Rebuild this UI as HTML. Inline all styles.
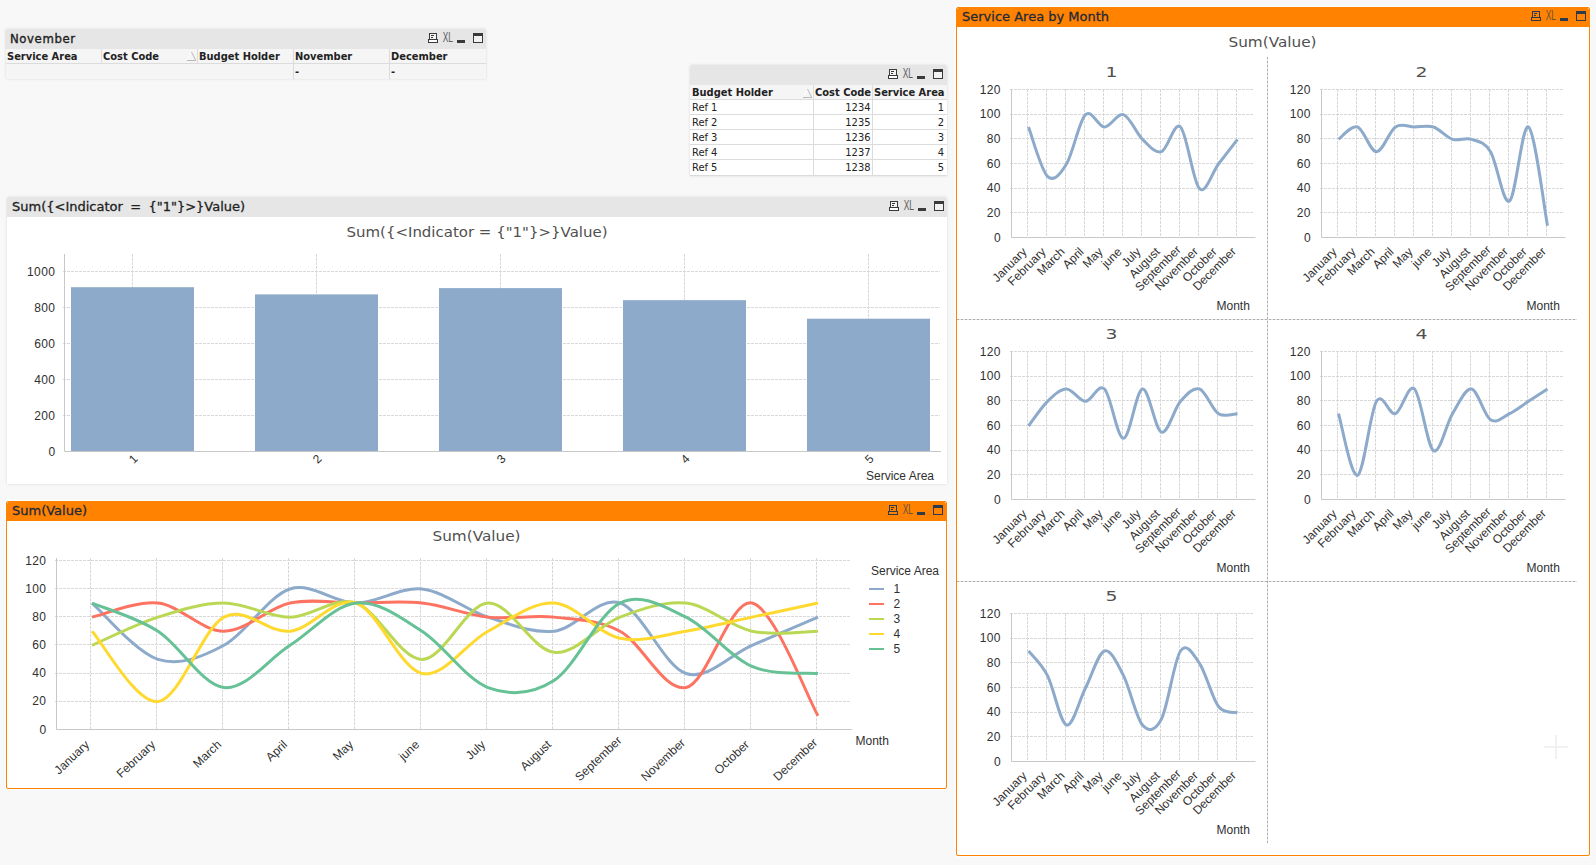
<!DOCTYPE html>
<html lang="en"><head><meta charset="utf-8"><title>QlikView</title>
<style>
html,body{margin:0;padding:0}
body{width:1596px;height:865px;overflow:hidden;background:#f8f8f8;position:relative;font-family:'DejaVu Sans Condensed','DejaVu Sans','Liberation Sans',sans-serif;font-size:11px;color:#222}
.obj{position:absolute;box-sizing:border-box;box-shadow:0 0 3px rgba(0,0,0,.13);border-radius:2px 2px 0 0}
.cap{position:absolute;left:0;top:0;right:0;background:#e6e6e6;white-space:pre;color:#222;border-radius:2px 2px 0 0}
.orange{border:1px solid #ff8200;border-radius:2px;box-shadow:0 0 0 1px rgba(255,255,255,.7)}
.orange .cap{background:#ff8200}
svg{position:absolute;left:0;top:0;overflow:visible}
svg text{white-space:pre}
.t{position:absolute;white-space:pre}
.b{font-weight:bold}
.ct{font-family:'DejaVu Sans','Liberation Sans',sans-serif;font-size:13px;line-height:15px;-webkit-text-stroke:.3px currentColor}
.orange .ct{color:#1f2a3a}
.ln{position:absolute;background:#dcdcdc}
</style></head><body>
<div class="obj" style="left:6px;top:29px;width:480px;height:50px;background:#f5f5f5"><div class="cap" style="left:-1px;height:20px"><span class="t" style="left:5px;top:1px;font-size:13px;line-height:17px;letter-spacing:.6px;-webkit-text-stroke:.35px #222">November</span></div><span class="t b" style="left:1px;top:21px;line-height:13px">Service Area</span><span class="t b" style="left:97px;top:21px;line-height:13px">Cost Code</span><span class="t b" style="left:193px;top:21px;line-height:13px">Budget Holder</span><span class="t b" style="left:289px;top:21px;line-height:13px">November</span><span class="t b" style="left:385px;top:21px;line-height:13px">December</span><div class="ln" style="left:0;top:34px;width:480px;height:1px"></div><div class="ln" style="left:95px;top:20px;width:1px;height:15px"></div><div class="ln" style="left:191px;top:20px;width:1px;height:15px"></div><div class="ln" style="left:287px;top:20px;width:1px;height:30px"></div><div class="ln" style="left:383px;top:20px;width:1px;height:30px"></div><span class="t b" style="left:289px;top:36px;line-height:13px">-</span><span class="t b" style="left:385px;top:36px;line-height:13px">-</span><svg width="480" height="50" viewBox="6 29 480 50"><rect x="429.5" y="33.5" width="7" height="6" fill="#f2f2f2" stroke="#3a3a3a"/><rect x="428.5" y="39.5" width="9" height="3" fill="#fff" stroke="#3a3a3a"/><path d="M431 35.5h3M431 37.5h2" stroke="#3a3a3a" fill="none"/><text x="442.7" y="42" font-family="'Liberation Sans',sans-serif" font-size="14" fill="#5c5c5c" textLength="10.3" lengthAdjust="spacingAndGlyphs">XL</text><rect x="457" y="40" width="8" height="3" fill="#3a3a3a"/><rect x="473.5" y="33.5" width="9" height="9" fill="#f2f2f2" stroke="#3a3a3a"/><rect x="473" y="33" width="10" height="3" fill="#3a3a3a"/><path d="M187.5 60L191 52" fill="none" stroke="#fff"/><path d="M187 60.5H196M191.5 52L195.5 60" fill="none" stroke="#b8b8b8"/></svg></div>
<div class="obj" style="left:690px;top:65px;width:257px;height:111px;background:#fff"><div class="cap" style="height:20px"></div><div class="t" style="left:0;top:20px;width:257px;height:15px;background:#f5f5f5"></div><span class="t b" style="left:2px;top:21px;line-height:13px">Budget Holder</span><span class="t b" style="left:125px;top:21px;line-height:13px">Cost Code</span><span class="t b" style="left:184px;top:21px;line-height:13px">Service Area</span><span class="t" style="left:2px;top:36px;line-height:13px">Ref 1</span><span class="t" style="left:124px;width:56.5px;text-align:right;top:36px;line-height:13px">1234</span><span class="t" style="left:183px;width:71px;text-align:right;top:36px;line-height:13px">1</span><span class="t" style="left:2px;top:51px;line-height:13px">Ref 2</span><span class="t" style="left:124px;width:56.5px;text-align:right;top:51px;line-height:13px">1235</span><span class="t" style="left:183px;width:71px;text-align:right;top:51px;line-height:13px">2</span><span class="t" style="left:2px;top:66px;line-height:13px">Ref 3</span><span class="t" style="left:124px;width:56.5px;text-align:right;top:66px;line-height:13px">1236</span><span class="t" style="left:183px;width:71px;text-align:right;top:66px;line-height:13px">3</span><span class="t" style="left:2px;top:81px;line-height:13px">Ref 4</span><span class="t" style="left:124px;width:56.5px;text-align:right;top:81px;line-height:13px">1237</span><span class="t" style="left:183px;width:71px;text-align:right;top:81px;line-height:13px">4</span><span class="t" style="left:2px;top:96px;line-height:13px">Ref 5</span><span class="t" style="left:124px;width:56.5px;text-align:right;top:96px;line-height:13px">1238</span><span class="t" style="left:183px;width:71px;text-align:right;top:96px;line-height:13px">5</span><div class="ln" style="left:0;top:34px;width:257px;height:1px"></div><div class="ln" style="left:0;top:49px;width:257px;height:1px"></div><div class="ln" style="left:0;top:64px;width:257px;height:1px"></div><div class="ln" style="left:0;top:79px;width:257px;height:1px"></div><div class="ln" style="left:0;top:94px;width:257px;height:1px"></div><div class="ln" style="left:0;top:110px;width:257px;height:1px"></div><div class="ln" style="left:123px;top:20px;width:1px;height:91px"></div><div class="ln" style="left:182px;top:20px;width:1px;height:91px"></div><svg width="257" height="111" viewBox="690 65 257 111"><rect x="889.5" y="69.5" width="7" height="6" fill="#f2f2f2" stroke="#3a3a3a"/><rect x="888.5" y="75.5" width="9" height="3" fill="#fff" stroke="#3a3a3a"/><path d="M891 71.5h3M891 73.5h2" stroke="#3a3a3a" fill="none"/><text x="902.7" y="78" font-family="'Liberation Sans',sans-serif" font-size="14" fill="#5c5c5c" textLength="10.3" lengthAdjust="spacingAndGlyphs">XL</text><rect x="917" y="76" width="8" height="3" fill="#3a3a3a"/><rect x="933.5" y="69.5" width="9" height="9" fill="#f2f2f2" stroke="#3a3a3a"/><rect x="933" y="69" width="10" height="3" fill="#3a3a3a"/><path d="M803.5 97L807 89" fill="none" stroke="#fff"/><path d="M803 97.5H812M807.5 89L811.5 97" fill="none" stroke="#b8b8b8"/></svg></div>
<div class="obj" style="left:7px;top:197px;width:940px;height:287px;background:#fff"><div class="cap" style="height:20px"><span class="t ct" style="left:5px;top:2px;word-spacing:3.2px">Sum({&lt;Indicator = {"1"}&gt;}Value)</span></div><svg width="940" height="287" viewBox="7 197 940 287"><path d="M63 415.5H940" stroke="#d8d8d8" stroke-dasharray="3 1" fill="none"/><path d="M63 379.5H940" stroke="#d8d8d8" stroke-dasharray="3 1" fill="none"/><path d="M63 343.5H940" stroke="#d8d8d8" stroke-dasharray="3 1" fill="none"/><path d="M63 307.5H940" stroke="#d8d8d8" stroke-dasharray="3 1" fill="none"/><path d="M63 271.5H940" stroke="#d8d8d8" stroke-dasharray="3 1" fill="none"/><path d="M132.5 254V451" stroke="#d8d8d8" stroke-dasharray="3 1" fill="none"/><path d="M316.5 254V451" stroke="#d8d8d8" stroke-dasharray="3 1" fill="none"/><path d="M500.5 254V451" stroke="#d8d8d8" stroke-dasharray="3 1" fill="none"/><path d="M684.5 254V451" stroke="#d8d8d8" stroke-dasharray="3 1" fill="none"/><path d="M868.5 254V451" stroke="#d8d8d8" stroke-dasharray="3 1" fill="none"/><rect x="71" y="287.2" width="123" height="163.8" fill="#8daacb"/><rect x="255" y="294.4" width="123" height="156.6" fill="#8daacb"/><rect x="439" y="288.1" width="123" height="162.9" fill="#8daacb"/><rect x="623" y="300.16" width="123" height="150.84" fill="#8daacb"/><rect x="807" y="318.7" width="123" height="132.3" fill="#8daacb"/><path d="M64.5 254V451.5H941" stroke="#c8c8c8" fill="none"/><text x="55.5" y="455.5" text-anchor="end" font-family="'Liberation Sans',sans-serif" font-size="12" letter-spacing=".45" fill="#303030">0</text><text x="55.5" y="419.5" text-anchor="end" font-family="'Liberation Sans',sans-serif" font-size="12" letter-spacing=".45" fill="#303030">200</text><text x="55.5" y="383.5" text-anchor="end" font-family="'Liberation Sans',sans-serif" font-size="12" letter-spacing=".45" fill="#303030">400</text><text x="55.5" y="347.5" text-anchor="end" font-family="'Liberation Sans',sans-serif" font-size="12" letter-spacing=".45" fill="#303030">600</text><text x="55.5" y="311.5" text-anchor="end" font-family="'Liberation Sans',sans-serif" font-size="12" letter-spacing=".45" fill="#303030">800</text><text x="55.5" y="275.5" text-anchor="end" font-family="'Liberation Sans',sans-serif" font-size="12" letter-spacing=".45" fill="#303030">1000</text><text x="138.5" y="459.5" text-anchor="end" font-family="'Liberation Sans',sans-serif" font-size="12" fill="#303030" transform="rotate(-45 138.5 459.5)">1</text><text x="322.5" y="459.5" text-anchor="end" font-family="'Liberation Sans',sans-serif" font-size="12" fill="#303030" transform="rotate(-45 322.5 459.5)">2</text><text x="506.5" y="459.5" text-anchor="end" font-family="'Liberation Sans',sans-serif" font-size="12" fill="#303030" transform="rotate(-45 506.5 459.5)">3</text><text x="690.5" y="459.5" text-anchor="end" font-family="'Liberation Sans',sans-serif" font-size="12" fill="#303030" transform="rotate(-45 690.5 459.5)">4</text><text x="874.5" y="459.5" text-anchor="end" font-family="'Liberation Sans',sans-serif" font-size="12" fill="#303030" transform="rotate(-45 874.5 459.5)">5</text><text x="934" y="480" text-anchor="end" font-family="'Liberation Sans',sans-serif" font-size="12" fill="#303030">Service Area</text><text x="477" y="237" text-anchor="middle" font-family="'DejaVu Sans','Liberation Sans',sans-serif" font-size="14" fill="#505050" textLength="261" lengthAdjust="spacingAndGlyphs">Sum({&lt;Indicator = {"1"}&gt;}Value)</text><rect x="890.5" y="201.5" width="7" height="6" fill="#f2f2f2" stroke="#3a3a3a"/><rect x="889.5" y="207.5" width="9" height="3" fill="#fff" stroke="#3a3a3a"/><path d="M892 203.5h3M892 205.5h2" stroke="#3a3a3a" fill="none"/><text x="903.7" y="210" font-family="'Liberation Sans',sans-serif" font-size="14" fill="#5c5c5c" textLength="10.3" lengthAdjust="spacingAndGlyphs">XL</text><rect x="918" y="208" width="8" height="3" fill="#3a3a3a"/><rect x="934.5" y="201.5" width="9" height="9" fill="#f2f2f2" stroke="#3a3a3a"/><rect x="934" y="201" width="10" height="3" fill="#3a3a3a"/></svg></div>
<div class="obj orange" style="left:6px;top:501px;width:941px;height:288px;background:#fff"><div class="cap" style="height:19px"><span class="t ct" style="left:5px;top:1px">Sum(Value)</span></div><svg style="left:-1px;top:-1px" width="941" height="288" viewBox="6 501 941 288"><path d="M55 701.5H851" stroke="#d8d8d8" stroke-dasharray="3 1" fill="none"/><path d="M55 673.5H851" stroke="#d8d8d8" stroke-dasharray="3 1" fill="none"/><path d="M55 644.5H851" stroke="#d8d8d8" stroke-dasharray="3 1" fill="none"/><path d="M55 616.5H851" stroke="#d8d8d8" stroke-dasharray="3 1" fill="none"/><path d="M55 588.5H851" stroke="#d8d8d8" stroke-dasharray="3 1" fill="none"/><path d="M55 560.5H851" stroke="#d8d8d8" stroke-dasharray="3 1" fill="none"/><path d="M90.5 558V729" stroke="#d8d8d8" stroke-dasharray="3 1" fill="none"/><path d="M156.5 558V729" stroke="#d8d8d8" stroke-dasharray="3 1" fill="none"/><path d="M222.5 558V729" stroke="#d8d8d8" stroke-dasharray="3 1" fill="none"/><path d="M288.5 558V729" stroke="#d8d8d8" stroke-dasharray="3 1" fill="none"/><path d="M354.5 558V729" stroke="#d8d8d8" stroke-dasharray="3 1" fill="none"/><path d="M420.5 558V729" stroke="#d8d8d8" stroke-dasharray="3 1" fill="none"/><path d="M486.5 558V729" stroke="#d8d8d8" stroke-dasharray="3 1" fill="none"/><path d="M552.5 558V729" stroke="#d8d8d8" stroke-dasharray="3 1" fill="none"/><path d="M618.5 558V729" stroke="#d8d8d8" stroke-dasharray="3 1" fill="none"/><path d="M684.5 558V729" stroke="#d8d8d8" stroke-dasharray="3 1" fill="none"/><path d="M750.5 558V729" stroke="#d8d8d8" stroke-dasharray="3 1" fill="none"/><path d="M816.5 558V729" stroke="#d8d8d8" stroke-dasharray="3 1" fill="none"/><path d="M56.5 558V729.5H852" stroke="#c8c8c8" fill="none"/><path d="M92 603.05C103 612.44 136 652.34 158 659.38C180 666.42 202 657.04 224 645.3C246 633.56 268 596.01 290 588.97C312 581.92 334 603.05 356 603.05C378 603.05 400 586.62 422 588.97C444 591.31 466 610.09 488 617.13C510 624.17 532 633.56 554 631.22C576 628.87 598 596.01 620 603.05C642 610.09 664 666.42 686 673.47C708 680.51 730 654.69 752 645.3C774 635.91 807 621.83 818 617.13" stroke="#8daacb" stroke-width="3" fill="none" stroke-linecap="butt" stroke-linejoin="round"/><path d="M92 617.13C103 614.79 136 600.7 158 603.05C180 605.4 202 631.22 224 631.22C246 631.22 268 607.74 290 603.05C312 598.36 334 603.05 356 603.05C378 603.05 400 600.7 422 603.05C444 605.4 466 614.79 488 617.13C510 619.48 532 614.79 554 617.13C576 619.48 598 619.48 620 631.22C642 642.95 664 692.24 686 687.55C708 682.86 730 598.36 752 603.05C774 607.74 807 696.94 818 715.72" stroke="#fc7362" stroke-width="3" fill="none" stroke-linecap="butt" stroke-linejoin="round"/><path d="M92 645.3C103 640.61 136 624.17 158 617.13C180 610.09 202 603.05 224 603.05C246 603.05 268 617.13 290 617.13C312 617.13 334 596.01 356 603.05C378 610.09 400 659.38 422 659.38C444 659.38 466 604.22 488 603.05C510 601.88 532 649.99 554 652.34C576 654.69 598 625.35 620 617.13C642 608.92 664 600.7 686 603.05C708 605.4 730 626.52 752 631.22C774 635.91 807 631.22 818 631.22" stroke="#bbd854" stroke-width="3" fill="none" stroke-linecap="butt" stroke-linejoin="round"/><path d="M92 631.22C103 642.95 136 703.98 158 701.63C180 699.29 202 628.87 224 617.13C246 605.4 268 633.56 290 631.22C312 628.87 334 596.01 356 603.05C378 610.09 400 668.77 422 673.47C444 678.16 466 642.95 488 631.22C510 619.48 532 601.88 554 603.05C576 604.22 598 633.56 620 638.26C642 642.95 664 634.74 686 631.22C708 627.7 730 621.83 752 617.13C774 612.44 807 605.4 818 603.05" stroke="#ffd92f" stroke-width="3" fill="none" stroke-linecap="butt" stroke-linejoin="round"/><path d="M92 603.05C103 607.74 136 617.13 158 631.22C180 645.3 202 685.2 224 687.55C246 689.9 268 659.38 290 645.3C312 631.22 334 605.4 356 603.05C378 600.7 400 617.13 422 631.22C444 645.3 466 679.33 488 687.55C510 695.77 532 694.59 554 680.51C576 666.42 598 613.61 620 603.05C642 592.49 664 606.57 686 617.13C708 627.7 730 657.04 752 666.42C774 675.81 807 672.29 818 673.47" stroke="#66c296" stroke-width="3" fill="none" stroke-linecap="butt" stroke-linejoin="round"/><text x="46.5" y="733.5" text-anchor="end" font-family="'Liberation Sans',sans-serif" font-size="12" letter-spacing=".45" fill="#303030">0</text><text x="46.5" y="705.33" text-anchor="end" font-family="'Liberation Sans',sans-serif" font-size="12" letter-spacing=".45" fill="#303030">20</text><text x="46.5" y="677.17" text-anchor="end" font-family="'Liberation Sans',sans-serif" font-size="12" letter-spacing=".45" fill="#303030">40</text><text x="46.5" y="649" text-anchor="end" font-family="'Liberation Sans',sans-serif" font-size="12" letter-spacing=".45" fill="#303030">60</text><text x="46.5" y="620.83" text-anchor="end" font-family="'Liberation Sans',sans-serif" font-size="12" letter-spacing=".45" fill="#303030">80</text><text x="46.5" y="592.67" text-anchor="end" font-family="'Liberation Sans',sans-serif" font-size="12" letter-spacing=".45" fill="#303030">100</text><text x="46.5" y="564.5" text-anchor="end" font-family="'Liberation Sans',sans-serif" font-size="12" letter-spacing=".45" fill="#303030">120</text><text x="90.0" y="745.5" text-anchor="end" font-family="'Liberation Sans',sans-serif" font-size="12" fill="#303030" transform="rotate(-43.5 90.0 745.5)">January</text><text x="156.0" y="745.5" text-anchor="end" font-family="'Liberation Sans',sans-serif" font-size="12" fill="#303030" transform="rotate(-43.5 156.0 745.5)">February</text><text x="222.0" y="745.5" text-anchor="end" font-family="'Liberation Sans',sans-serif" font-size="12" fill="#303030" transform="rotate(-43.5 222.0 745.5)">March</text><text x="288.0" y="745.5" text-anchor="end" font-family="'Liberation Sans',sans-serif" font-size="12" fill="#303030" transform="rotate(-43.5 288.0 745.5)">April</text><text x="354.0" y="745.5" text-anchor="end" font-family="'Liberation Sans',sans-serif" font-size="12" fill="#303030" transform="rotate(-43.5 354.0 745.5)">May</text><text x="420.0" y="745.5" text-anchor="end" font-family="'Liberation Sans',sans-serif" font-size="12" fill="#303030" transform="rotate(-43.5 420.0 745.5)">june</text><text x="486.0" y="745.5" text-anchor="end" font-family="'Liberation Sans',sans-serif" font-size="12" fill="#303030" transform="rotate(-43.5 486.0 745.5)">July</text><text x="552.0" y="745.5" text-anchor="end" font-family="'Liberation Sans',sans-serif" font-size="12" fill="#303030" transform="rotate(-43.5 552.0 745.5)">August</text><text x="622.35" y="741.37" text-anchor="end" font-family="'Liberation Sans',sans-serif" font-size="12" fill="#303030" transform="rotate(-43.5 622.35 741.37)">September</text><text x="685.96" y="743.64" text-anchor="end" font-family="'Liberation Sans',sans-serif" font-size="12" fill="#303030" transform="rotate(-43.5 685.96 743.64)">November</text><text x="750.0" y="745.5" text-anchor="end" font-family="'Liberation Sans',sans-serif" font-size="12" fill="#303030" transform="rotate(-43.5 750.0 745.5)">October</text><text x="818.17" y="743.44" text-anchor="end" font-family="'Liberation Sans',sans-serif" font-size="12" fill="#303030" transform="rotate(-43.5 818.17 743.44)">December</text><text x="855.5" y="745" font-family="'Liberation Sans',sans-serif" font-size="12" fill="#303030">Month</text><text x="871" y="575" font-family="'Liberation Sans',sans-serif" font-size="12" fill="#303030">Service Area</text><path d="M869 589H884" stroke="#8daacb" stroke-width="2" fill="none"/><text x="893.5" y="593" font-family="'Liberation Sans',sans-serif" font-size="12" fill="#303030">1</text><path d="M869 604H884" stroke="#fc7362" stroke-width="2" fill="none"/><text x="893.5" y="608" font-family="'Liberation Sans',sans-serif" font-size="12" fill="#303030">2</text><path d="M869 619H884" stroke="#bbd854" stroke-width="2" fill="none"/><text x="893.5" y="623" font-family="'Liberation Sans',sans-serif" font-size="12" fill="#303030">3</text><path d="M869 634H884" stroke="#ffd92f" stroke-width="2" fill="none"/><text x="893.5" y="638" font-family="'Liberation Sans',sans-serif" font-size="12" fill="#303030">4</text><path d="M869 649H884" stroke="#66c296" stroke-width="2" fill="none"/><text x="893.5" y="653" font-family="'Liberation Sans',sans-serif" font-size="12" fill="#303030">5</text><text x="476.5" y="541" text-anchor="middle" font-family="'DejaVu Sans','Liberation Sans',sans-serif" font-size="14" fill="#505050" textLength="88" lengthAdjust="spacingAndGlyphs">Sum(Value)</text><rect x="889.5" y="505.5" width="7" height="6" fill="none" stroke="#2c3a4c"/><rect x="888.5" y="511.5" width="9" height="3" fill="none" stroke="#2c3a4c"/><path d="M891 507.5h3M891 509.5h2" stroke="#2c3a4c" fill="none"/><text x="902.7" y="514" font-family="'Liberation Sans',sans-serif" font-size="14" fill="#6e5238" textLength="10.3" lengthAdjust="spacingAndGlyphs">XL</text><rect x="917" y="512" width="8" height="3" fill="#2c3a4c"/><rect x="933.5" y="505.5" width="9" height="9" fill="none" stroke="#2c3a4c"/><rect x="933" y="505" width="10" height="3" fill="#2c3a4c"/></svg></div>
<div class="obj orange" style="left:956px;top:7px;width:634px;height:849px;background:#fff"><div class="cap" style="height:19px"><span class="t ct" style="left:5px;top:1px">Service Area by Month</span></div><svg style="left:-1px;top:-1px" width="634" height="849" viewBox="956 7 634 849"><text x="1272.5" y="46.5" text-anchor="middle" font-family="'DejaVu Sans','Liberation Sans',sans-serif" font-size="14" fill="#505050" textLength="88" lengthAdjust="spacingAndGlyphs">Sum(Value)</text><path d="M1267.5 57V843M957 319.5H1577M957 581.5H1577" stroke="#e0e0e0" fill="none"/><path d="M1267.5 57V843M957 319.5H1577M957 581.5H1577" stroke="#adadad" stroke-dasharray="2 2" fill="none"/><path d="M1010.0 212.5H1254" stroke="#d8d8d8" stroke-dasharray="3 1" fill="none"/><path d="M1010.0 188.5H1254" stroke="#d8d8d8" stroke-dasharray="3 1" fill="none"/><path d="M1010.0 163.5H1254" stroke="#d8d8d8" stroke-dasharray="3 1" fill="none"/><path d="M1010.0 138.5H1254" stroke="#d8d8d8" stroke-dasharray="3 1" fill="none"/><path d="M1010.0 114.5H1254" stroke="#d8d8d8" stroke-dasharray="3 1" fill="none"/><path d="M1010.0 89.5H1254" stroke="#d8d8d8" stroke-dasharray="3 1" fill="none"/><path d="M1027.5 89V237" stroke="#d8d8d8" stroke-dasharray="3 1" fill="none"/><path d="M1046.5 89V237" stroke="#d8d8d8" stroke-dasharray="3 1" fill="none"/><path d="M1065.5 89V237" stroke="#d8d8d8" stroke-dasharray="3 1" fill="none"/><path d="M1084.5 89V237" stroke="#d8d8d8" stroke-dasharray="3 1" fill="none"/><path d="M1103.5 89V237" stroke="#d8d8d8" stroke-dasharray="3 1" fill="none"/><path d="M1122.5 89V237" stroke="#d8d8d8" stroke-dasharray="3 1" fill="none"/><path d="M1141.5 89V237" stroke="#d8d8d8" stroke-dasharray="3 1" fill="none"/><path d="M1160.5 89V237" stroke="#d8d8d8" stroke-dasharray="3 1" fill="none"/><path d="M1179.5 89V237" stroke="#d8d8d8" stroke-dasharray="3 1" fill="none"/><path d="M1198.5 89V237" stroke="#d8d8d8" stroke-dasharray="3 1" fill="none"/><path d="M1217.5 89V237" stroke="#d8d8d8" stroke-dasharray="3 1" fill="none"/><path d="M1236.5 89V237" stroke="#d8d8d8" stroke-dasharray="3 1" fill="none"/><path d="M1011.5 89V237.5H1255.5" stroke="#c8c8c8" fill="none"/><path d="M1028.5 127C1031.67 135.22 1041.17 170.17 1047.5 176.33C1053.83 182.5 1060.17 174.28 1066.5 164C1072.83 153.72 1079.17 120.83 1085.5 114.67C1091.83 108.5 1098.17 127 1104.5 127C1110.83 127 1117.17 112.61 1123.5 114.67C1129.83 116.72 1136.17 133.17 1142.5 139.33C1148.83 145.5 1155.17 153.72 1161.5 151.67C1167.83 149.61 1174.17 120.83 1180.5 127C1186.83 133.17 1193.17 182.5 1199.5 188.67C1205.83 194.83 1212.17 172.22 1218.5 164C1224.83 155.78 1234.33 143.44 1237.5 139.33" stroke="#8daacb" stroke-width="3" fill="none" stroke-linejoin="round"/><text x="1001" y="241.5" text-anchor="end" font-family="'Liberation Sans',sans-serif" font-size="12" letter-spacing=".45" fill="#303030">0</text><text x="1001" y="216.83" text-anchor="end" font-family="'Liberation Sans',sans-serif" font-size="12" letter-spacing=".45" fill="#303030">20</text><text x="1001" y="192.17" text-anchor="end" font-family="'Liberation Sans',sans-serif" font-size="12" letter-spacing=".45" fill="#303030">40</text><text x="1001" y="167.5" text-anchor="end" font-family="'Liberation Sans',sans-serif" font-size="12" letter-spacing=".45" fill="#303030">60</text><text x="1001" y="142.83" text-anchor="end" font-family="'Liberation Sans',sans-serif" font-size="12" letter-spacing=".45" fill="#303030">80</text><text x="1001" y="118.17" text-anchor="end" font-family="'Liberation Sans',sans-serif" font-size="12" letter-spacing=".45" fill="#303030">100</text><text x="1001" y="93.5" text-anchor="end" font-family="'Liberation Sans',sans-serif" font-size="12" letter-spacing=".45" fill="#303030">120</text><text x="1027.5" y="252.5" text-anchor="end" font-family="'Liberation Sans',sans-serif" font-size="12" fill="#303030" transform="rotate(-45 1027.5 252.5)">January</text><text x="1046.5" y="252.5" text-anchor="end" font-family="'Liberation Sans',sans-serif" font-size="12" fill="#303030" transform="rotate(-45 1046.5 252.5)">February</text><text x="1065.5" y="252.5" text-anchor="end" font-family="'Liberation Sans',sans-serif" font-size="12" fill="#303030" transform="rotate(-45 1065.5 252.5)">March</text><text x="1084.5" y="252.5" text-anchor="end" font-family="'Liberation Sans',sans-serif" font-size="12" fill="#303030" transform="rotate(-45 1084.5 252.5)">April</text><text x="1103.5" y="252.5" text-anchor="end" font-family="'Liberation Sans',sans-serif" font-size="12" fill="#303030" transform="rotate(-45 1103.5 252.5)">May</text><text x="1122.5" y="252.5" text-anchor="end" font-family="'Liberation Sans',sans-serif" font-size="12" fill="#303030" transform="rotate(-45 1122.5 252.5)">june</text><text x="1141.5" y="252.5" text-anchor="end" font-family="'Liberation Sans',sans-serif" font-size="12" fill="#303030" transform="rotate(-45 1141.5 252.5)">July</text><text x="1160.5" y="252.5" text-anchor="end" font-family="'Liberation Sans',sans-serif" font-size="12" fill="#303030" transform="rotate(-45 1160.5 252.5)">August</text><text x="1181.62" y="250.38" text-anchor="end" font-family="'Liberation Sans',sans-serif" font-size="12" fill="#303030" transform="rotate(-45 1181.62 250.38)">September</text><text x="1198.85" y="252.15" text-anchor="end" font-family="'Liberation Sans',sans-serif" font-size="12" fill="#303030" transform="rotate(-45 1198.85 252.15)">November</text><text x="1217.5" y="252.5" text-anchor="end" font-family="'Liberation Sans',sans-serif" font-size="12" fill="#303030" transform="rotate(-45 1217.5 252.5)">October</text><text x="1236.85" y="252.15" text-anchor="end" font-family="'Liberation Sans',sans-serif" font-size="12" fill="#303030" transform="rotate(-45 1236.85 252.15)">December</text><text x="1216.5" y="309.5" font-family="'Liberation Sans',sans-serif" font-size="12" fill="#303030">Month</text><text x="1111.5" y="76.5" text-anchor="middle" font-family="'DejaVu Sans','Liberation Sans',sans-serif" font-size="14" fill="#505050" textLength="12" lengthAdjust="spacingAndGlyphs">1</text><path d="M1320.0 212.5H1564" stroke="#d8d8d8" stroke-dasharray="3 1" fill="none"/><path d="M1320.0 188.5H1564" stroke="#d8d8d8" stroke-dasharray="3 1" fill="none"/><path d="M1320.0 163.5H1564" stroke="#d8d8d8" stroke-dasharray="3 1" fill="none"/><path d="M1320.0 138.5H1564" stroke="#d8d8d8" stroke-dasharray="3 1" fill="none"/><path d="M1320.0 114.5H1564" stroke="#d8d8d8" stroke-dasharray="3 1" fill="none"/><path d="M1320.0 89.5H1564" stroke="#d8d8d8" stroke-dasharray="3 1" fill="none"/><path d="M1337.5 89V237" stroke="#d8d8d8" stroke-dasharray="3 1" fill="none"/><path d="M1356.5 89V237" stroke="#d8d8d8" stroke-dasharray="3 1" fill="none"/><path d="M1375.5 89V237" stroke="#d8d8d8" stroke-dasharray="3 1" fill="none"/><path d="M1394.5 89V237" stroke="#d8d8d8" stroke-dasharray="3 1" fill="none"/><path d="M1413.5 89V237" stroke="#d8d8d8" stroke-dasharray="3 1" fill="none"/><path d="M1432.5 89V237" stroke="#d8d8d8" stroke-dasharray="3 1" fill="none"/><path d="M1451.5 89V237" stroke="#d8d8d8" stroke-dasharray="3 1" fill="none"/><path d="M1470.5 89V237" stroke="#d8d8d8" stroke-dasharray="3 1" fill="none"/><path d="M1489.5 89V237" stroke="#d8d8d8" stroke-dasharray="3 1" fill="none"/><path d="M1508.5 89V237" stroke="#d8d8d8" stroke-dasharray="3 1" fill="none"/><path d="M1527.5 89V237" stroke="#d8d8d8" stroke-dasharray="3 1" fill="none"/><path d="M1546.5 89V237" stroke="#d8d8d8" stroke-dasharray="3 1" fill="none"/><path d="M1321.5 89V237.5H1565.5" stroke="#c8c8c8" fill="none"/><path d="M1338.5 139.33C1341.67 137.28 1351.17 124.94 1357.5 127C1363.83 129.06 1370.17 151.67 1376.5 151.67C1382.83 151.67 1389.17 131.11 1395.5 127C1401.83 122.89 1408.17 127 1414.5 127C1420.83 127 1427.17 124.94 1433.5 127C1439.83 129.06 1446.17 137.28 1452.5 139.33C1458.83 141.39 1465.17 137.28 1471.5 139.33C1477.83 141.39 1484.17 141.39 1490.5 151.67C1496.83 161.94 1503.17 205.11 1509.5 201C1515.83 196.89 1522.17 122.89 1528.5 127C1534.83 131.11 1544.33 209.22 1547.5 225.67" stroke="#8daacb" stroke-width="3" fill="none" stroke-linejoin="round"/><text x="1311" y="241.5" text-anchor="end" font-family="'Liberation Sans',sans-serif" font-size="12" letter-spacing=".45" fill="#303030">0</text><text x="1311" y="216.83" text-anchor="end" font-family="'Liberation Sans',sans-serif" font-size="12" letter-spacing=".45" fill="#303030">20</text><text x="1311" y="192.17" text-anchor="end" font-family="'Liberation Sans',sans-serif" font-size="12" letter-spacing=".45" fill="#303030">40</text><text x="1311" y="167.5" text-anchor="end" font-family="'Liberation Sans',sans-serif" font-size="12" letter-spacing=".45" fill="#303030">60</text><text x="1311" y="142.83" text-anchor="end" font-family="'Liberation Sans',sans-serif" font-size="12" letter-spacing=".45" fill="#303030">80</text><text x="1311" y="118.17" text-anchor="end" font-family="'Liberation Sans',sans-serif" font-size="12" letter-spacing=".45" fill="#303030">100</text><text x="1311" y="93.5" text-anchor="end" font-family="'Liberation Sans',sans-serif" font-size="12" letter-spacing=".45" fill="#303030">120</text><text x="1337.5" y="252.5" text-anchor="end" font-family="'Liberation Sans',sans-serif" font-size="12" fill="#303030" transform="rotate(-45 1337.5 252.5)">January</text><text x="1356.5" y="252.5" text-anchor="end" font-family="'Liberation Sans',sans-serif" font-size="12" fill="#303030" transform="rotate(-45 1356.5 252.5)">February</text><text x="1375.5" y="252.5" text-anchor="end" font-family="'Liberation Sans',sans-serif" font-size="12" fill="#303030" transform="rotate(-45 1375.5 252.5)">March</text><text x="1394.5" y="252.5" text-anchor="end" font-family="'Liberation Sans',sans-serif" font-size="12" fill="#303030" transform="rotate(-45 1394.5 252.5)">April</text><text x="1413.5" y="252.5" text-anchor="end" font-family="'Liberation Sans',sans-serif" font-size="12" fill="#303030" transform="rotate(-45 1413.5 252.5)">May</text><text x="1432.5" y="252.5" text-anchor="end" font-family="'Liberation Sans',sans-serif" font-size="12" fill="#303030" transform="rotate(-45 1432.5 252.5)">june</text><text x="1451.5" y="252.5" text-anchor="end" font-family="'Liberation Sans',sans-serif" font-size="12" fill="#303030" transform="rotate(-45 1451.5 252.5)">July</text><text x="1470.5" y="252.5" text-anchor="end" font-family="'Liberation Sans',sans-serif" font-size="12" fill="#303030" transform="rotate(-45 1470.5 252.5)">August</text><text x="1491.62" y="250.38" text-anchor="end" font-family="'Liberation Sans',sans-serif" font-size="12" fill="#303030" transform="rotate(-45 1491.62 250.38)">September</text><text x="1508.85" y="252.15" text-anchor="end" font-family="'Liberation Sans',sans-serif" font-size="12" fill="#303030" transform="rotate(-45 1508.85 252.15)">November</text><text x="1527.5" y="252.5" text-anchor="end" font-family="'Liberation Sans',sans-serif" font-size="12" fill="#303030" transform="rotate(-45 1527.5 252.5)">October</text><text x="1546.85" y="252.15" text-anchor="end" font-family="'Liberation Sans',sans-serif" font-size="12" fill="#303030" transform="rotate(-45 1546.85 252.15)">December</text><text x="1526.5" y="309.5" font-family="'Liberation Sans',sans-serif" font-size="12" fill="#303030">Month</text><text x="1421.5" y="76.5" text-anchor="middle" font-family="'DejaVu Sans','Liberation Sans',sans-serif" font-size="14" fill="#505050" textLength="12" lengthAdjust="spacingAndGlyphs">2</text><path d="M1010.0 474.5H1254" stroke="#d8d8d8" stroke-dasharray="3 1" fill="none"/><path d="M1010.0 450.5H1254" stroke="#d8d8d8" stroke-dasharray="3 1" fill="none"/><path d="M1010.0 425.5H1254" stroke="#d8d8d8" stroke-dasharray="3 1" fill="none"/><path d="M1010.0 400.5H1254" stroke="#d8d8d8" stroke-dasharray="3 1" fill="none"/><path d="M1010.0 376.5H1254" stroke="#d8d8d8" stroke-dasharray="3 1" fill="none"/><path d="M1010.0 351.5H1254" stroke="#d8d8d8" stroke-dasharray="3 1" fill="none"/><path d="M1027.5 351V499" stroke="#d8d8d8" stroke-dasharray="3 1" fill="none"/><path d="M1046.5 351V499" stroke="#d8d8d8" stroke-dasharray="3 1" fill="none"/><path d="M1065.5 351V499" stroke="#d8d8d8" stroke-dasharray="3 1" fill="none"/><path d="M1084.5 351V499" stroke="#d8d8d8" stroke-dasharray="3 1" fill="none"/><path d="M1103.5 351V499" stroke="#d8d8d8" stroke-dasharray="3 1" fill="none"/><path d="M1122.5 351V499" stroke="#d8d8d8" stroke-dasharray="3 1" fill="none"/><path d="M1141.5 351V499" stroke="#d8d8d8" stroke-dasharray="3 1" fill="none"/><path d="M1160.5 351V499" stroke="#d8d8d8" stroke-dasharray="3 1" fill="none"/><path d="M1179.5 351V499" stroke="#d8d8d8" stroke-dasharray="3 1" fill="none"/><path d="M1198.5 351V499" stroke="#d8d8d8" stroke-dasharray="3 1" fill="none"/><path d="M1217.5 351V499" stroke="#d8d8d8" stroke-dasharray="3 1" fill="none"/><path d="M1236.5 351V499" stroke="#d8d8d8" stroke-dasharray="3 1" fill="none"/><path d="M1011.5 351V499.5H1255.5" stroke="#c8c8c8" fill="none"/><path d="M1028.5 426C1031.67 421.89 1041.17 407.5 1047.5 401.33C1053.83 395.17 1060.17 389 1066.5 389C1072.83 389 1079.17 401.33 1085.5 401.33C1091.83 401.33 1098.17 382.83 1104.5 389C1110.83 395.17 1117.17 438.33 1123.5 438.33C1129.83 438.33 1136.17 390.03 1142.5 389C1148.83 387.97 1155.17 430.11 1161.5 432.17C1167.83 434.22 1174.17 408.53 1180.5 401.33C1186.83 394.14 1193.17 386.94 1199.5 389C1205.83 391.06 1212.17 409.56 1218.5 413.67C1224.83 417.78 1234.33 413.67 1237.5 413.67" stroke="#8daacb" stroke-width="3" fill="none" stroke-linejoin="round"/><text x="1001" y="503.5" text-anchor="end" font-family="'Liberation Sans',sans-serif" font-size="12" letter-spacing=".45" fill="#303030">0</text><text x="1001" y="478.83" text-anchor="end" font-family="'Liberation Sans',sans-serif" font-size="12" letter-spacing=".45" fill="#303030">20</text><text x="1001" y="454.17" text-anchor="end" font-family="'Liberation Sans',sans-serif" font-size="12" letter-spacing=".45" fill="#303030">40</text><text x="1001" y="429.5" text-anchor="end" font-family="'Liberation Sans',sans-serif" font-size="12" letter-spacing=".45" fill="#303030">60</text><text x="1001" y="404.83" text-anchor="end" font-family="'Liberation Sans',sans-serif" font-size="12" letter-spacing=".45" fill="#303030">80</text><text x="1001" y="380.17" text-anchor="end" font-family="'Liberation Sans',sans-serif" font-size="12" letter-spacing=".45" fill="#303030">100</text><text x="1001" y="355.5" text-anchor="end" font-family="'Liberation Sans',sans-serif" font-size="12" letter-spacing=".45" fill="#303030">120</text><text x="1027.5" y="514.5" text-anchor="end" font-family="'Liberation Sans',sans-serif" font-size="12" fill="#303030" transform="rotate(-45 1027.5 514.5)">January</text><text x="1046.5" y="514.5" text-anchor="end" font-family="'Liberation Sans',sans-serif" font-size="12" fill="#303030" transform="rotate(-45 1046.5 514.5)">February</text><text x="1065.5" y="514.5" text-anchor="end" font-family="'Liberation Sans',sans-serif" font-size="12" fill="#303030" transform="rotate(-45 1065.5 514.5)">March</text><text x="1084.5" y="514.5" text-anchor="end" font-family="'Liberation Sans',sans-serif" font-size="12" fill="#303030" transform="rotate(-45 1084.5 514.5)">April</text><text x="1103.5" y="514.5" text-anchor="end" font-family="'Liberation Sans',sans-serif" font-size="12" fill="#303030" transform="rotate(-45 1103.5 514.5)">May</text><text x="1122.5" y="514.5" text-anchor="end" font-family="'Liberation Sans',sans-serif" font-size="12" fill="#303030" transform="rotate(-45 1122.5 514.5)">june</text><text x="1141.5" y="514.5" text-anchor="end" font-family="'Liberation Sans',sans-serif" font-size="12" fill="#303030" transform="rotate(-45 1141.5 514.5)">July</text><text x="1160.5" y="514.5" text-anchor="end" font-family="'Liberation Sans',sans-serif" font-size="12" fill="#303030" transform="rotate(-45 1160.5 514.5)">August</text><text x="1181.62" y="512.38" text-anchor="end" font-family="'Liberation Sans',sans-serif" font-size="12" fill="#303030" transform="rotate(-45 1181.62 512.38)">September</text><text x="1198.85" y="514.15" text-anchor="end" font-family="'Liberation Sans',sans-serif" font-size="12" fill="#303030" transform="rotate(-45 1198.85 514.15)">November</text><text x="1217.5" y="514.5" text-anchor="end" font-family="'Liberation Sans',sans-serif" font-size="12" fill="#303030" transform="rotate(-45 1217.5 514.5)">October</text><text x="1236.85" y="514.15" text-anchor="end" font-family="'Liberation Sans',sans-serif" font-size="12" fill="#303030" transform="rotate(-45 1236.85 514.15)">December</text><text x="1216.5" y="571.5" font-family="'Liberation Sans',sans-serif" font-size="12" fill="#303030">Month</text><text x="1111.5" y="338.5" text-anchor="middle" font-family="'DejaVu Sans','Liberation Sans',sans-serif" font-size="14" fill="#505050" textLength="12" lengthAdjust="spacingAndGlyphs">3</text><path d="M1320.0 474.5H1564" stroke="#d8d8d8" stroke-dasharray="3 1" fill="none"/><path d="M1320.0 450.5H1564" stroke="#d8d8d8" stroke-dasharray="3 1" fill="none"/><path d="M1320.0 425.5H1564" stroke="#d8d8d8" stroke-dasharray="3 1" fill="none"/><path d="M1320.0 400.5H1564" stroke="#d8d8d8" stroke-dasharray="3 1" fill="none"/><path d="M1320.0 376.5H1564" stroke="#d8d8d8" stroke-dasharray="3 1" fill="none"/><path d="M1320.0 351.5H1564" stroke="#d8d8d8" stroke-dasharray="3 1" fill="none"/><path d="M1337.5 351V499" stroke="#d8d8d8" stroke-dasharray="3 1" fill="none"/><path d="M1356.5 351V499" stroke="#d8d8d8" stroke-dasharray="3 1" fill="none"/><path d="M1375.5 351V499" stroke="#d8d8d8" stroke-dasharray="3 1" fill="none"/><path d="M1394.5 351V499" stroke="#d8d8d8" stroke-dasharray="3 1" fill="none"/><path d="M1413.5 351V499" stroke="#d8d8d8" stroke-dasharray="3 1" fill="none"/><path d="M1432.5 351V499" stroke="#d8d8d8" stroke-dasharray="3 1" fill="none"/><path d="M1451.5 351V499" stroke="#d8d8d8" stroke-dasharray="3 1" fill="none"/><path d="M1470.5 351V499" stroke="#d8d8d8" stroke-dasharray="3 1" fill="none"/><path d="M1489.5 351V499" stroke="#d8d8d8" stroke-dasharray="3 1" fill="none"/><path d="M1508.5 351V499" stroke="#d8d8d8" stroke-dasharray="3 1" fill="none"/><path d="M1527.5 351V499" stroke="#d8d8d8" stroke-dasharray="3 1" fill="none"/><path d="M1546.5 351V499" stroke="#d8d8d8" stroke-dasharray="3 1" fill="none"/><path d="M1321.5 351V499.5H1565.5" stroke="#c8c8c8" fill="none"/><path d="M1338.5 413.67C1341.67 423.94 1351.17 477.39 1357.5 475.33C1363.83 473.28 1370.17 411.61 1376.5 401.33C1382.83 391.06 1389.17 415.72 1395.5 413.67C1401.83 411.61 1408.17 382.83 1414.5 389C1420.83 395.17 1427.17 446.56 1433.5 450.67C1439.83 454.78 1446.17 423.94 1452.5 413.67C1458.83 403.39 1465.17 387.97 1471.5 389C1477.83 390.03 1484.17 415.72 1490.5 419.83C1496.83 423.94 1503.17 416.75 1509.5 413.67C1515.83 410.58 1522.17 405.44 1528.5 401.33C1534.83 397.22 1544.33 391.06 1547.5 389" stroke="#8daacb" stroke-width="3" fill="none" stroke-linejoin="round"/><text x="1311" y="503.5" text-anchor="end" font-family="'Liberation Sans',sans-serif" font-size="12" letter-spacing=".45" fill="#303030">0</text><text x="1311" y="478.83" text-anchor="end" font-family="'Liberation Sans',sans-serif" font-size="12" letter-spacing=".45" fill="#303030">20</text><text x="1311" y="454.17" text-anchor="end" font-family="'Liberation Sans',sans-serif" font-size="12" letter-spacing=".45" fill="#303030">40</text><text x="1311" y="429.5" text-anchor="end" font-family="'Liberation Sans',sans-serif" font-size="12" letter-spacing=".45" fill="#303030">60</text><text x="1311" y="404.83" text-anchor="end" font-family="'Liberation Sans',sans-serif" font-size="12" letter-spacing=".45" fill="#303030">80</text><text x="1311" y="380.17" text-anchor="end" font-family="'Liberation Sans',sans-serif" font-size="12" letter-spacing=".45" fill="#303030">100</text><text x="1311" y="355.5" text-anchor="end" font-family="'Liberation Sans',sans-serif" font-size="12" letter-spacing=".45" fill="#303030">120</text><text x="1337.5" y="514.5" text-anchor="end" font-family="'Liberation Sans',sans-serif" font-size="12" fill="#303030" transform="rotate(-45 1337.5 514.5)">January</text><text x="1356.5" y="514.5" text-anchor="end" font-family="'Liberation Sans',sans-serif" font-size="12" fill="#303030" transform="rotate(-45 1356.5 514.5)">February</text><text x="1375.5" y="514.5" text-anchor="end" font-family="'Liberation Sans',sans-serif" font-size="12" fill="#303030" transform="rotate(-45 1375.5 514.5)">March</text><text x="1394.5" y="514.5" text-anchor="end" font-family="'Liberation Sans',sans-serif" font-size="12" fill="#303030" transform="rotate(-45 1394.5 514.5)">April</text><text x="1413.5" y="514.5" text-anchor="end" font-family="'Liberation Sans',sans-serif" font-size="12" fill="#303030" transform="rotate(-45 1413.5 514.5)">May</text><text x="1432.5" y="514.5" text-anchor="end" font-family="'Liberation Sans',sans-serif" font-size="12" fill="#303030" transform="rotate(-45 1432.5 514.5)">june</text><text x="1451.5" y="514.5" text-anchor="end" font-family="'Liberation Sans',sans-serif" font-size="12" fill="#303030" transform="rotate(-45 1451.5 514.5)">July</text><text x="1470.5" y="514.5" text-anchor="end" font-family="'Liberation Sans',sans-serif" font-size="12" fill="#303030" transform="rotate(-45 1470.5 514.5)">August</text><text x="1491.62" y="512.38" text-anchor="end" font-family="'Liberation Sans',sans-serif" font-size="12" fill="#303030" transform="rotate(-45 1491.62 512.38)">September</text><text x="1508.85" y="514.15" text-anchor="end" font-family="'Liberation Sans',sans-serif" font-size="12" fill="#303030" transform="rotate(-45 1508.85 514.15)">November</text><text x="1527.5" y="514.5" text-anchor="end" font-family="'Liberation Sans',sans-serif" font-size="12" fill="#303030" transform="rotate(-45 1527.5 514.5)">October</text><text x="1546.85" y="514.15" text-anchor="end" font-family="'Liberation Sans',sans-serif" font-size="12" fill="#303030" transform="rotate(-45 1546.85 514.15)">December</text><text x="1526.5" y="571.5" font-family="'Liberation Sans',sans-serif" font-size="12" fill="#303030">Month</text><text x="1421.5" y="338.5" text-anchor="middle" font-family="'DejaVu Sans','Liberation Sans',sans-serif" font-size="14" fill="#505050" textLength="12" lengthAdjust="spacingAndGlyphs">4</text><path d="M1010.0 736.5H1254" stroke="#d8d8d8" stroke-dasharray="3 1" fill="none"/><path d="M1010.0 712.5H1254" stroke="#d8d8d8" stroke-dasharray="3 1" fill="none"/><path d="M1010.0 687.5H1254" stroke="#d8d8d8" stroke-dasharray="3 1" fill="none"/><path d="M1010.0 662.5H1254" stroke="#d8d8d8" stroke-dasharray="3 1" fill="none"/><path d="M1010.0 638.5H1254" stroke="#d8d8d8" stroke-dasharray="3 1" fill="none"/><path d="M1010.0 613.5H1254" stroke="#d8d8d8" stroke-dasharray="3 1" fill="none"/><path d="M1027.5 613V761" stroke="#d8d8d8" stroke-dasharray="3 1" fill="none"/><path d="M1046.5 613V761" stroke="#d8d8d8" stroke-dasharray="3 1" fill="none"/><path d="M1065.5 613V761" stroke="#d8d8d8" stroke-dasharray="3 1" fill="none"/><path d="M1084.5 613V761" stroke="#d8d8d8" stroke-dasharray="3 1" fill="none"/><path d="M1103.5 613V761" stroke="#d8d8d8" stroke-dasharray="3 1" fill="none"/><path d="M1122.5 613V761" stroke="#d8d8d8" stroke-dasharray="3 1" fill="none"/><path d="M1141.5 613V761" stroke="#d8d8d8" stroke-dasharray="3 1" fill="none"/><path d="M1160.5 613V761" stroke="#d8d8d8" stroke-dasharray="3 1" fill="none"/><path d="M1179.5 613V761" stroke="#d8d8d8" stroke-dasharray="3 1" fill="none"/><path d="M1198.5 613V761" stroke="#d8d8d8" stroke-dasharray="3 1" fill="none"/><path d="M1217.5 613V761" stroke="#d8d8d8" stroke-dasharray="3 1" fill="none"/><path d="M1236.5 613V761" stroke="#d8d8d8" stroke-dasharray="3 1" fill="none"/><path d="M1011.5 613V761.5H1255.5" stroke="#c8c8c8" fill="none"/><path d="M1028.5 651C1031.67 655.11 1041.17 663.33 1047.5 675.67C1053.83 688 1060.17 722.94 1066.5 725C1072.83 727.06 1079.17 700.33 1085.5 688C1091.83 675.67 1098.17 653.06 1104.5 651C1110.83 648.94 1117.17 663.33 1123.5 675.67C1129.83 688 1136.17 717.81 1142.5 725C1148.83 732.19 1155.17 731.17 1161.5 718.83C1167.83 706.5 1174.17 660.25 1180.5 651C1186.83 641.75 1193.17 654.08 1199.5 663.33C1205.83 672.58 1212.17 698.28 1218.5 706.5C1224.83 714.72 1234.33 711.64 1237.5 712.67" stroke="#8daacb" stroke-width="3" fill="none" stroke-linejoin="round"/><text x="1001" y="765.5" text-anchor="end" font-family="'Liberation Sans',sans-serif" font-size="12" letter-spacing=".45" fill="#303030">0</text><text x="1001" y="740.83" text-anchor="end" font-family="'Liberation Sans',sans-serif" font-size="12" letter-spacing=".45" fill="#303030">20</text><text x="1001" y="716.17" text-anchor="end" font-family="'Liberation Sans',sans-serif" font-size="12" letter-spacing=".45" fill="#303030">40</text><text x="1001" y="691.5" text-anchor="end" font-family="'Liberation Sans',sans-serif" font-size="12" letter-spacing=".45" fill="#303030">60</text><text x="1001" y="666.83" text-anchor="end" font-family="'Liberation Sans',sans-serif" font-size="12" letter-spacing=".45" fill="#303030">80</text><text x="1001" y="642.17" text-anchor="end" font-family="'Liberation Sans',sans-serif" font-size="12" letter-spacing=".45" fill="#303030">100</text><text x="1001" y="617.5" text-anchor="end" font-family="'Liberation Sans',sans-serif" font-size="12" letter-spacing=".45" fill="#303030">120</text><text x="1027.5" y="776.5" text-anchor="end" font-family="'Liberation Sans',sans-serif" font-size="12" fill="#303030" transform="rotate(-45 1027.5 776.5)">January</text><text x="1046.5" y="776.5" text-anchor="end" font-family="'Liberation Sans',sans-serif" font-size="12" fill="#303030" transform="rotate(-45 1046.5 776.5)">February</text><text x="1065.5" y="776.5" text-anchor="end" font-family="'Liberation Sans',sans-serif" font-size="12" fill="#303030" transform="rotate(-45 1065.5 776.5)">March</text><text x="1084.5" y="776.5" text-anchor="end" font-family="'Liberation Sans',sans-serif" font-size="12" fill="#303030" transform="rotate(-45 1084.5 776.5)">April</text><text x="1103.5" y="776.5" text-anchor="end" font-family="'Liberation Sans',sans-serif" font-size="12" fill="#303030" transform="rotate(-45 1103.5 776.5)">May</text><text x="1122.5" y="776.5" text-anchor="end" font-family="'Liberation Sans',sans-serif" font-size="12" fill="#303030" transform="rotate(-45 1122.5 776.5)">june</text><text x="1141.5" y="776.5" text-anchor="end" font-family="'Liberation Sans',sans-serif" font-size="12" fill="#303030" transform="rotate(-45 1141.5 776.5)">July</text><text x="1160.5" y="776.5" text-anchor="end" font-family="'Liberation Sans',sans-serif" font-size="12" fill="#303030" transform="rotate(-45 1160.5 776.5)">August</text><text x="1181.62" y="774.38" text-anchor="end" font-family="'Liberation Sans',sans-serif" font-size="12" fill="#303030" transform="rotate(-45 1181.62 774.38)">September</text><text x="1198.85" y="776.15" text-anchor="end" font-family="'Liberation Sans',sans-serif" font-size="12" fill="#303030" transform="rotate(-45 1198.85 776.15)">November</text><text x="1217.5" y="776.5" text-anchor="end" font-family="'Liberation Sans',sans-serif" font-size="12" fill="#303030" transform="rotate(-45 1217.5 776.5)">October</text><text x="1236.85" y="776.15" text-anchor="end" font-family="'Liberation Sans',sans-serif" font-size="12" fill="#303030" transform="rotate(-45 1236.85 776.15)">December</text><text x="1216.5" y="833.5" font-family="'Liberation Sans',sans-serif" font-size="12" fill="#303030">Month</text><text x="1111.5" y="600.5" text-anchor="middle" font-family="'DejaVu Sans','Liberation Sans',sans-serif" font-size="14" fill="#505050" textLength="12" lengthAdjust="spacingAndGlyphs">5</text><path d="M1544 747H1568M1556 735V759" stroke="#f0f1f1" stroke-width="2" fill="none"/><rect x="1532.5" y="11.5" width="7" height="6" fill="none" stroke="#2c3a4c"/><rect x="1531.5" y="17.5" width="9" height="3" fill="none" stroke="#2c3a4c"/><path d="M1534 13.5h3M1534 15.5h2" stroke="#2c3a4c" fill="none"/><text x="1545.7" y="20" font-family="'Liberation Sans',sans-serif" font-size="14" fill="#6e5238" textLength="10.3" lengthAdjust="spacingAndGlyphs">XL</text><rect x="1560" y="18" width="8" height="3" fill="#2c3a4c"/><rect x="1576.5" y="11.5" width="9" height="9" fill="none" stroke="#2c3a4c"/><rect x="1576" y="11" width="10" height="3" fill="#2c3a4c"/></svg></div>
</body></html>
